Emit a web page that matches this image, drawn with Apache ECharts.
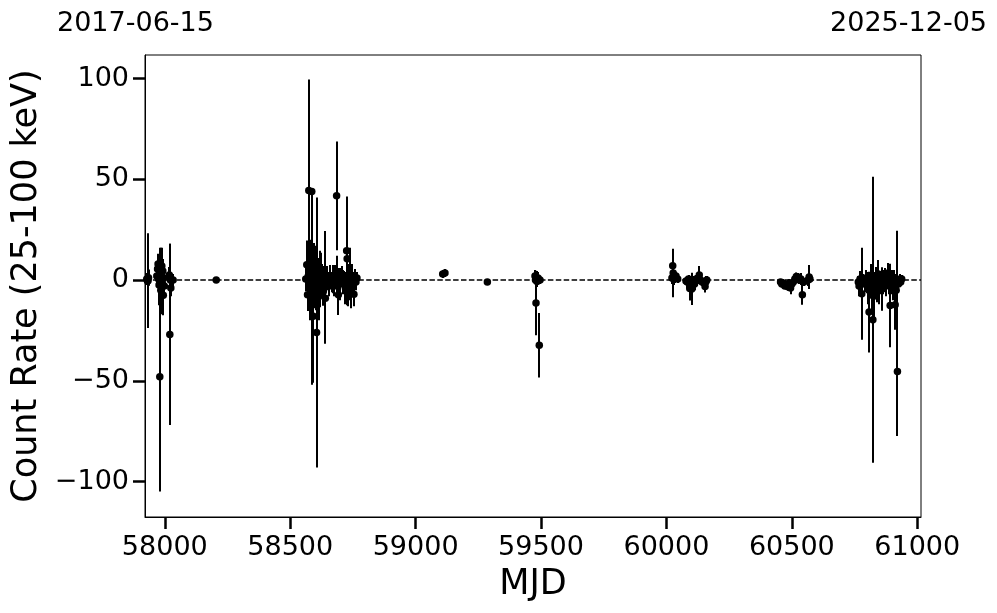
<!DOCTYPE html>
<html>
<head>
<meta charset="utf-8">
<script src="https://cdn.jsdelivr.net/npm/echarts@6/dist/echarts.min.js"></script>
<style>html,body{margin:0;padding:0;background:#fff;}#c{width:997px;height:613px;}</style>
</head>
<body>
<div id="c"></div>
<script>
// Observation epochs (MJD)
const mjd = [
  57928,57931,57933,57935,57968,57971,57973,57975,57977,57979,57980,57982,57984,57986,57988,57990,57992,57994,57996,57998,58018,58020,58022,58024,58033,58205,
  58562,58566,58569,58572,58574,58577,58580,58583,58586,58588,58591,58592,58596,58599,58602,58605,58608,58611,58614,58618,58621,58638,58628,58632,58636,58640,58645,58650,58655,58660,58665,58670,58675,58680,58685,58688,58692,58696,58700,58705,58710,58715,58720,58725,58727,58730,58734,58738,58742,58746,58750,58754,58758,58762,58766,
  59108,59117,59286,59476,59478,59480,59482,59484,59488,59493,59496,
  60022,60025,60027,60029,60033,60038,60045,60078,60083,60088,60093,60097,60101,60106,60112,60118,60124,60131,60136,60142,60154,60157,60161,
  60455,60460,60466,60472,60478,60484,60490,60495,60500,60506,60512,60518,60524,60530,60536,60542,60548,60565,60569,60572,
  60765,60768,60772,60776,60779,60785,60790,60795,60799,60803,60808,60812,60816,60820,60823,60826,60830,60834,60838,60842,60845,60849,60853,60857,60861,60865,60870,60875,60879,60884,60888,60892,60896,60900,60905,60909,60912,60916,60919,60921,60925,60930,60934,60938
];
// Count rate (25-100 keV)
const rate = [
  0.5,-0.5,-0.3,1.2,2.0,5.5,8.0,0.5,-2.5,6.5,-48,3.0,-5,0.0,7,-1.5,4.5,-7.5,1,-3,2.5,-27,0.0,-4,0,0,
  0.5,7.6,-7.3,2,44.5,-3,0,5,44,-4,2,-18,8.4,-2,1,-26,-5,3,-8,0.5,3.5,-3.6,0,-5.7,-2,-9,1,0,-3,1.5,-1,0.5,-3,1.5,41.8,3.1,-7.3,0,-2,2,-1,0.5,-4,14.5,10.6,-3,0,3,-5,1,-2,-7,0.5,-1,1,
  3,3.5,-1,2,0,-11.4,0.5,-0.7,1,-32.4,0,
  1,7.1,3.5,0.5,1.5,2,0.5,-0.5,-1,0.5,-4.2,-1,-4.4,0,-2,0.5,0,2.5,0,-1,-3.2,-1,0,
  -1,-2,-1.5,-3,-2.5,-3.3,-1.5,-4,-2,-1,0.5,1.8,1.5,0,0.5,-7.3,-1,0,1.5,0.5,
  -1,-3,0.5,-2,-6.8,0,-2,1,-1.5,-4,-15.9,-3,1,-5,-19.7,-8,-2,1.5,-3,0,3,-5,-2,0.5,-4.4,-1,2,-3,0,3.5,-1,-12.6,-2,1,-4,0,-12.3,-5,0.5,-45.4,-2,0,-1,0.5
];
// 1-sigma uncertainty
const rateErr = [
  3,2,23.5,4,5,6,5,8,10,7,57,13,12,16,9,5,6,10,4,6,4,45,18,4,3,1.5,
  6,12,8,15,55,10,20,9,1.5,48,14,33,10,12,16,67,10,8,12,14,10,28,8,7,9,8,6,4,5,6,5,7,5,6,27,9,10,6,8,5,6,4,8,27,12,10,8,13,9,7,6,6,5,4,3,
  2,2,1.5,3,2,16,4,2,3,16,2,
  3,4,12,3,3,2,2,2,3,2,6,3,8,2,3,2,2,4.5,2,2,3,3,2,
  1.5,1.5,2,1.5,2,2,2,3,2,2,2,2,2,2,3,5,2,3,6,2,
  3,5,4,6,22.8,3,4,4,5,8,20,6,7,10,71,12,6,5,8,10,6,7,5,4,10.8,6,4,5,4,5,6,20.7,5,4,6,5,12.4,8,24,32,4,3,2,2
];
const xTicks = [58000, 58500, 59000, 59500, 60000, 60500, 61000];
const yTicks = [-100, -50, 0, 50, 100];
const dateStart = '2017-06-15';
const dateEnd = '2025-12-05';

const pts = mjd.map((m, i) => [m, rate[i]]);
const bars = mjd.map((m, i) => [m, rate[i], rateErr[i]]);

const FONT = 'DejaVu Sans';
const chart = echarts.init(document.getElementById('c'), null, {renderer: 'canvas'});
chart.setOption({
  animation: false,
  backgroundColor: '#fff',
  grid: {left: 145, top: 55, right: 76, bottom: 96, show: true, borderColor: '#000', borderWidth: 1, backgroundColor: 'transparent'},
  graphic: [
    {type: 'text', left: 57, top: 10, style: {text: dateStart, font: '27px "DejaVu Sans"', fill: '#000'}},
    {type: 'text', right: 10, top: 10, style: {text: dateEnd, font: '27px "DejaVu Sans"', fill: '#000'}}
  ],
  xAxis: {
    type: 'value', min: 57921, max: 61015,
    name: 'MJD', nameLocation: 'middle', nameGap: 50,
    nameTextStyle: {fontFamily: FONT, fontSize: 35, color: '#000'},
    axisLine: {show: true, onZero: false, lineStyle: {color: '#000', width: 1}},
    axisTick: {show: true, inside: false, length: 12, customValues: xTicks, lineStyle: {color: '#000', width: 2.5}},
    axisLabel: {customValues: xTicks, margin: 17, fontFamily: FONT, fontSize: 27, color: '#000',
      formatter: v => String(v)},
    splitLine: {show: false}
  },
  yAxis: {
    type: 'value', min: -117.6, max: 111.7,
    name: 'Count Rate (25-100 keV)', nameLocation: 'middle', nameGap: 96, nameRotate: 90,
    nameTextStyle: {fontFamily: FONT, fontSize: 35, color: '#000'},
    axisLine: {show: true, onZero: false, lineStyle: {color: '#000', width: 1}},
    axisTick: {show: true, inside: false, length: 12, customValues: yTicks, lineStyle: {color: '#000', width: 2.5}},
    axisLabel: {customValues: yTicks, margin: 16, fontFamily: FONT, fontSize: 27, color: '#000',
      formatter: v => String(v).replace('-', '\u2212')},
    splitLine: {show: false}
  },
  series: [
    {
      type: 'custom', clip: true, z: 2,
      data: bars,
      encode: {x: 0, y: 1},
      renderItem: function (params, api) {
        const x = api.value(0), y = api.value(1), e = api.value(2);
        const p1 = api.coord([x, y - e]);
        const p2 = api.coord([x, y + e]);
        const px = Math.round(p1[0]);
        return {type: 'line', shape: {x1: px, y1: p1[1], x2: px, y2: p2[1]},
          style: {stroke: '#000', lineWidth: 2, opacity: 1}};
      }
    },
    {
      type: 'scatter', z: 3, data: pts, symbol: 'circle', symbolSize: 7.5,
      itemStyle: {color: '#000', opacity: 1}, silent: true,
      markLine: {
        silent: true, symbol: 'none', z: 4,
        label: {show: false},
        lineStyle: {color: '#000', type: [5.5, 2.4], width: 1.5, opacity: 1},
        data: [{yAxis: 0}]
      }
    }
  ]
});
</script>
</body>
</html>
